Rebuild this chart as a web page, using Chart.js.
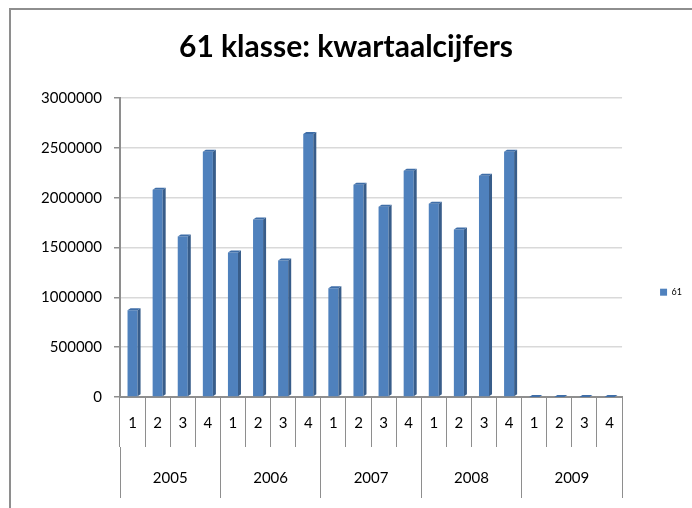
<!DOCTYPE html>
<html>
<head>
<meta charset="utf-8">
<script src="https://cdn.jsdelivr.net/npm/chart.js@4/dist/chart.umd.min.js"></script>
<style>
  html, body { margin: 0; padding: 0; background: #fff; overflow: hidden; }
  #wrap { position: relative; width: 692px; height: 508px; }
  #frame {
    position: absolute; left: 9px; top: 8px; width: 720px; height: 540px;
    border: 2px solid #8e8e8e; pointer-events: none;
  }
</style>
</head>
<body>
<div id="wrap">
  <canvas id="myChart" width="692" height="508"></canvas>
  <div id="frame"></div>
</div>
<script>
// Quarter labels and year groups
const quarters = ["1", "2", "3", "4", "1", "2", "3", "4", "1", "2", "3", "4",
                  "1", "2", "3", "4", "1", "2", "3", "4"];
const years = ["2005", "2006", "2007", "2008", "2009"];

// Series "61" per quarter
const values61 = [870000, 2080000, 1610000, 2460000,
                  1450000, 1780000, 1370000, 2640000,
                  1090000, 2130000, 1910000, 2270000,
                  1940000, 1680000, 2220000, 2460000,
                  0, 0, 0, 0];

const yTicks = { min: 0, max: 3000000, step: 500000 };

const FONT = "Lato, 'Liberation Sans', sans-serif";

// draws a small side and top face so the bars look like the 3D columns
const bar3d = {
  id: "bar3d",
  afterDatasetsDraw(chart) {
    const ctx = chart.ctx;
    const meta = chart.getDatasetMeta(0);
    const dx = 3, dy = 2;
    ctx.save();
    meta.data.forEach(function (bar) {
      const p = bar.getProps(["x", "y", "base", "width"], true);
      const left = p.x - p.width / 2;
      const right = p.x + p.width / 2;
      // side face
      ctx.fillStyle = "#385d8a";
      ctx.beginPath();
      ctx.moveTo(right, p.y);
      ctx.lineTo(right + dx, p.y - dy);
      ctx.lineTo(right + dx, p.base - dy);
      ctx.lineTo(right, p.base);
      ctx.closePath();
      ctx.fill();
      // top face
      ctx.fillStyle = "#3f6ea8";
      ctx.beginPath();
      ctx.moveTo(left, p.y);
      ctx.lineTo(left + dx, p.y - dy);
      ctx.lineTo(right + dx, p.y - dy);
      ctx.lineTo(right, p.y);
      ctx.closePath();
      ctx.fill();
    });
    ctx.restore();
  },
};

window.addEventListener("load", function () {
  const ctx = document.getElementById("myChart").getContext("2d");

  new Chart(ctx, {
    type: "bar",
    data: {
      labels: quarters,
      datasets: [
        {
          label: "61",
          data: values61,
          backgroundColor: "#4f81bd",
          borderWidth: 0,
          barPercentage: 0.4,
          categoryPercentage: 1.0,
        },
      ],
    },
    plugins: [bar3d],
    options: {
      responsive: false,
      animation: false,
      layout: { padding: { left: 0, right: 0, top: 0, bottom: 0 } },
      scales: {
        y: {
          min: yTicks.min,
          max: yTicks.max,
          border: { color: "#8e8e8e", width: 2 },
          grid: {
            color: "#d9d9d9",
            lineWidth: 1.5,
            tickLength: 6,
            tickColor: "#8e8e8e",
          },
          ticks: {
            stepSize: yTicks.step,
            padding: 12,
            color: "#000",
            font: { family: FONT, size: 15 },
            callback: function (v) { return String(v); },
          },
          afterFit: function (scale) { scale.width = 120; },
        },
        x: {
          offset: true,
          border: { color: "#8e8e8e", width: 2 },
          grid: {
            offset: true,
            drawOnChartArea: false,
            tickLength: 50,
            tickColor: "#8e8e8e",
            lineWidth: 1,
          },
          ticks: {
            autoSkip: false,
            maxRotation: 0,
            padding: -33,
            color: "#000",
            font: { family: FONT, size: 15 },
          },
          afterFit: function (scale) { scale.height = 50; },
        },
        x2: {
          type: "category",
          position: "bottom",
          labels: years,
          offset: true,
          border: { display: false },
          grid: {
            offset: true,
            drawOnChartArea: false,
            tickLength: 51,
            tickColor: "#8e8e8e",
            lineWidth: 1,
          },
          ticks: {
            autoSkip: false,
            maxRotation: 0,
            padding: -29,
            color: "#000",
            font: { family: FONT, size: 15 },
          },
          afterFit: function (scale) { scale.height = 61; },
        },
      },
      plugins: {
        title: {
          display: true,
          text: "61 klasse: kwartaalcijfers",
          color: "#000",
          font: { family: FONT, size: 30, weight: "bold", lineHeight: 1.2 },
          padding: { top: 29, bottom: 33 },
        },
        legend: {
          display: true,
          position: "right",
          title: { display: true, text: "", padding: 31 },
          labels: {
            boxWidth: 7,
            boxHeight: 7,
            padding: 38,
            color: "#000",
            font: { family: FONT, size: 9 },
          },
        },
        tooltip: { enabled: false },
      },
    },
  });
});
</script>
</body>
</html>
